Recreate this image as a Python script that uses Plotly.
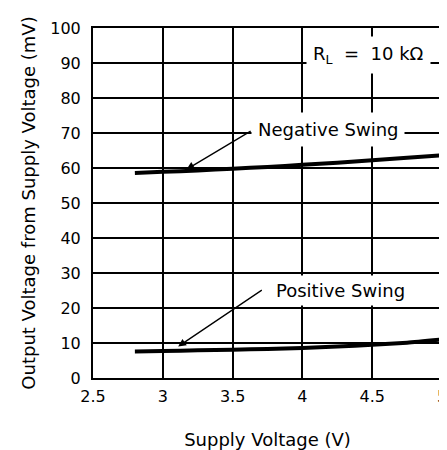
import plotly.graph_objects as go

neg_x = [2.8, 3.0, 3.25, 3.5, 3.75, 4.0, 4.25, 4.5, 4.75, 5.0]
neg_y = [58.6, 58.9, 59.3, 59.8, 60.3, 60.9, 61.5, 62.2, 62.9, 63.6]
pos_x = [2.8, 3.0, 3.25, 3.5, 3.75, 4.0, 4.25, 4.5, 4.75, 5.0]
pos_y = [7.6, 7.7, 7.9, 8.1, 8.3, 8.6, 9.0, 9.5, 10.1, 11.0]
x_ticks = [2.5, 3, 3.5, 4, 4.5, 5]
x_tick_labels = ["2.5", "3", "3.5", "4", "4.5", "5"]
y_ticks = [0, 10, 20, 30, 40, 50, 60, 70, 80, 90, 100]

FONT = "DejaVu Sans"

fig = go.Figure()
fig.add_trace(go.Scatter(x=neg_x, y=neg_y, mode="lines", line=dict(color="black", width=4, shape="spline", smoothing=0.6), showlegend=False))
fig.add_trace(go.Scatter(x=pos_x, y=pos_y, mode="lines", line=dict(color="black", width=4, shape="spline", smoothing=0.6), showlegend=False))

ann = []
# arrows
ann.append(dict(x=3.17, y=59.6, ax=3.64, ay=70.8, xref="x", yref="y", axref="x", ayref="y",
                showarrow=True, arrowhead=2, arrowsize=1.2, arrowwidth=1.3, arrowcolor="black", text=""))
ann.append(dict(x=3.11, y=9.0, ax=3.72, ay=25.4, xref="x", yref="y", axref="x", ayref="y",
                showarrow=True, arrowhead=2, arrowsize=1.2, arrowwidth=1.3, arrowcolor="black", text=""))
# labels
ann.append(dict(x=4.18, y=71.0, xref="x", yref="y", text="Negative Swing", showarrow=False,
                font=dict(family=FONT, size=18, color="black"), bgcolor="white", borderpad=6))
ann.append(dict(x=4.27, y=25.1, xref="x", yref="y", text="Positive Swing", showarrow=False,
                font=dict(family=FONT, size=18, color="black"), bgcolor="white", borderpad=4))
ann.append(dict(x=4.47, y=92.3, xref="x", yref="y", text="R<sub>L</sub>  =  10 kΩ", showarrow=False,
                font=dict(family=FONT, size=18, color="black"), bgcolor="white", borderpad=6))

fig.update_layout(
    width=439, height=442,
    margin=dict(l=85, r=5, t=20, b=72),
    paper_bgcolor="white", plot_bgcolor="white",
    font=dict(family=FONT, size=16, color="black"),
    annotations=ann,
)
fig.update_xaxes(range=[2.5, 5], tickvals=x_ticks, ticktext=x_tick_labels,
                 showgrid=True, gridcolor="black", gridwidth=1.5,
                 showline=True, linecolor="black", linewidth=2, mirror=True,
                 ticks="", ticklen=0, zeroline=False, automargin=False,
                 ticklabelstandoff=3, ticklabeloverflow="allow",
                 tickfont=dict(family=FONT, size=16),
                 title=dict(text="Supply Voltage (V)", font=dict(family=FONT, size=18), standoff=29))
fig.update_yaxes(range=[0, 100], tickvals=y_ticks,
                 showgrid=True, gridcolor="black", gridwidth=1.5,
                 showline=True, linecolor="black", linewidth=2, mirror=True,
                 ticks="", ticklen=0, zeroline=False, automargin=False,
                 ticklabelstandoff=7,
                 tickfont=dict(family=FONT, size=16),
                 title=dict(text="Output Voltage from Supply Voltage (mV)", font=dict(family=FONT, size=18), standoff=10))

fig.write_html("out.html")
